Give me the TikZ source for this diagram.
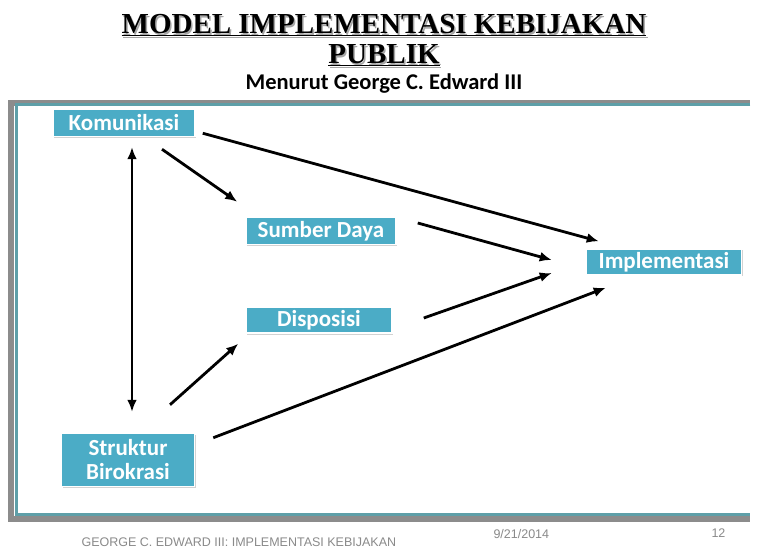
\documentclass[tikz,border=0pt]{standalone}
\usepackage{fontspec}
\setmainfont{Carlito}
\newfontfamily\titlefont{Liberation Serif}
\newfontfamily\footfont{Liberation Sans}
\usetikzlibrary{arrows.meta,calc,shadows}
\definecolor{boxblue}{HTML}{4BACC6}
\definecolor{frameteal}{HTML}{5E9FA8}
\definecolor{framegray}{HTML}{8C8C8C}
\definecolor{footgray}{HTML}{8A8A8A}

\begin{document}
\begin{tikzpicture}[x=1pt,y=-1pt,
  factor/.style={fill=boxblue,draw=white,line width=1.5pt,text=white,inner sep=0pt,align=center,
    font=\bfseries\fontsize{23}{24}\selectfont,
    drop shadow={shadow xshift=1pt,shadow yshift=-1.5pt,opacity=0.35}},
  heading/.style={anchor=base,font=\titlefont\bfseries\fontsize{29}{29}\selectfont},
  footer/.style={anchor=base,text=footgray,font=\footfont\fontsize{12.5}{13}\selectfont},
  link/.style={line width=2.8pt,-{Latex[length=12pt,width=10pt]}}]
  \fill[white] (0,0) rectangle (758,548);
  \useasboundingbox (0,0) rectangle (758,548);
  % slide frame
  \draw[framegray,line width=6pt] (750,103) -- (11,103) -- (11,519) -- (750,519);
  \draw[frameteal,line width=3pt] (750,104.5) -- (16.5,104.5) -- (16.5,514.5) -- (750,514.5);
  % title
  \node[heading,text=black!35] (heads1) at (385.5,35.5) {\underline{MODEL IMPLEMENTASI KEBIJAKAN}};
  \node[heading,text=black!35] (heads2) at (385.5,65.5) {\underline{PUBLIK}};
  \node[heading] (head1) at (384,34) {\underline{MODEL IMPLEMENTASI KEBIJAKAN}};
  \node[heading] (head2) at (384,64) {\underline{PUBLIK}};
  \node[anchor=base,font=\bfseries\fontsize{22.5}{23}\selectfont] (sub) at (384,90) {Menurut George C. Edward III};
  % factors
  \node[factor,minimum width=142,minimum height=27] (kom) at (124,123) {Komunikasi};
  \node[factor,minimum width=150,minimum height=27] (sumber) at (321,231) {Sumber Daya};
  \node[factor,minimum width=146,minimum height=26] (dispo) at (319,320) {Disposisi};
  \node[factor,minimum width=155,minimum height=26] (impl) at (664,262) {Implementasi};
  \node[factor,minimum width=133,minimum height=53] (struk) at (128,460) {Struktur\\Birokrasi};
  % links
  \draw[link,{Latex[length=12pt,width=10pt]}-{Latex[length=12pt,width=10pt]}] ($(kom.south)+(8,10)$) -- ($(struk.north)+(4,-21)$);
  \draw[link] ($(kom.south east)+(7,-4)$) -- ($(impl.north west)+(13,-7)$);
  \draw[link] ($(kom.south)+(38,12)$) -- ($(sumber.north west)+(-8,-15)$);
  \draw[link] ($(sumber.east)+(21,-8)$) -- ($(impl.west)+(-34,-2)$);
  \draw[link] ($(dispo.east)+(31,-2)$) -- ($(impl.west)+(-34,11)$);
  \draw[link] ($(struk.north)+(42,-28)$) -- ($(dispo.south west)+(-7,10)$);
  \draw[link] ($(struk.north east)+(18,5)$) -- ($(impl.south west)+(20,12)$);
  % footer
  \node[footer,anchor=base west] (foot) at (78,546) {GEORGE C. EDWARD III: IMPLEMENTASI KEBIJAKAN};
  \node[footer,anchor=base west] (date) at (490,538) {9/21/2014};
  \node[footer,anchor=base west] (page) at (708,537) {12};
\end{tikzpicture}
\end{document}
